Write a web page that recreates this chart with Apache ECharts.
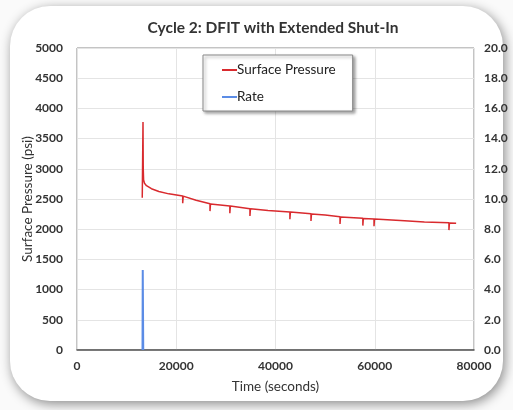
<!DOCTYPE html>
<html><head><meta charset="utf-8">
<script src="https://cdn.jsdelivr.net/npm/echarts@6/dist/echarts.min.js"></script>
<style>html,body{margin:0;padding:0;background:#fff}#c{width:513px;height:410px}</style>
</head><body><div id="c"></div>
<script>
// Surface pressure (time s, psi)
const pressureTime = [13150, 13250, 13300, 13350, 13420, 13600, 14000, 15000, 16500, 18500, 21300,
  21300, 21400, 24000, 26800, 26800, 26900, 30800, 30800, 30900, 34850, 34850, 34950, 38500,
  42900, 42900, 43000, 47150, 47150, 47250, 50000, 53000, 53000, 53100, 57600, 57600, 57700,
  59850, 59850, 59950, 66000, 70000, 74950, 74950, 75050, 76400];
const pressureValues = [2520, 2540, 3775, 3000, 2815, 2760, 2720, 2670, 2625, 2585, 2550,
  2430, 2548, 2480, 2420, 2300, 2418, 2385, 2265, 2383, 2340, 2220, 2338, 2310,
  2285, 2165, 2283, 2255, 2135, 2253, 2235, 2205, 2085, 2203, 2180, 2060, 2178,
  2170, 2050, 2168, 2140, 2120, 2105, 1985, 2103, 2100];
// Rate (time s, bpm)
const rateTime = [13200, 13250, 13300, 13350];
const rateValues = [0, 5.3, 5.3, 0];
const leftTicks = {min: 0, max: 5000, interval: 500};
const rightTicks = {min: 0, max: 20, interval: 2};
const xTicks = {min: 0, max: 80000, interval: 20000};

const font = 'Lato, "Open Sans", sans-serif';
const chart = echarts.init(document.getElementById('c'), null, {renderer: 'canvas'});
chart.setOption({
  animation: false,
  backgroundColor: '#fafafa',
  graphic: [{
    type: 'rect', z: -10, silent: true,
    shape: {x: 10, y: 6, width: 493, height: 395, r: 40},
    style: {fill: '#fff', shadowBlur: 12, shadowColor: 'rgba(0,0,0,0.45)', shadowOffsetX: 2, shadowOffsetY: 3}
  }],
  title: {
    text: 'Cycle 2: DFIT with Extended Shut-In', left: 268, top: 15, textAlign: 'center',
    textStyle: {fontFamily: font, fontSize: 15.5, fontWeight: 'bold', color: '#333'}
  },
  grid: {left: 77, right: 39, top: 48, bottom: 60, show: true, borderColor: '#888', borderWidth: 1},
  legend: {
    orient: 'vertical', left: 203, top: 55, width: 150, itemGap: 13,
    padding: [8, 17, 7, 19],
    borderColor: '#888', borderWidth: 1, backgroundColor: '#fff',
    shadowBlur: 3, shadowColor: 'rgba(0,0,0,0.35)', shadowOffsetX: 2, shadowOffsetY: 2,
    itemWidth: 15, itemHeight: 2, icon: 'rect',
    textStyle: {fontFamily: font, fontSize: 13.5, color: '#222', padding: [0, 0, 0, -5]},
    data: ['Surface Pressure', 'Rate']
  },
  xAxis: {
    type: 'value', min: xTicks.min, max: xTicks.max, interval: xTicks.interval,
    name: 'Time (seconds)', nameLocation: 'middle', nameGap: 30,
    nameTextStyle: {fontFamily: font, fontSize: 13.5, color: '#333'},
    axisLine: {lineStyle: {color: '#555', width: 1.5}}, axisTick: {show: false},
    axisLabel: {fontFamily: font, fontSize: 12, fontWeight: 'bold', color: '#333', margin: 10,
      formatter: v => String(v)},
    splitLine: {lineStyle: {color: '#e4e4e4'}}
  },
  yAxis: [{
    type: 'value', min: leftTicks.min, max: leftTicks.max, interval: leftTicks.interval,
    name: 'Surface Pressure (psi)', nameLocation: 'middle', nameGap: 42, nameMoveOverlap: false,
    nameTextStyle: {fontFamily: font, fontSize: 13.5, color: '#333'},
    axisLine: {show: false}, axisTick: {show: false},
    axisLabel: {fontFamily: font, fontSize: 12, fontWeight: 'bold', color: '#333', margin: 14,
      formatter: v => String(v)},
    splitLine: {lineStyle: {color: '#e4e4e4'}}
  }, {
    type: 'value', min: rightTicks.min, max: rightTicks.max, interval: rightTicks.interval,
    position: 'right',
    axisLine: {show: false}, axisTick: {show: false},
    axisLabel: {fontFamily: font, fontSize: 12, fontWeight: 'bold', color: '#333', margin: 10,
      formatter: v => v.toFixed(1)},
    splitLine: {show: false}
  }],
  series: [{
    name: 'Surface Pressure', type: 'line', yAxisIndex: 0, showSymbol: false,
    data: pressureTime.map((t, i) => [t, pressureValues[i]]),
    lineStyle: {color: '#d92a2e', width: 1.5}, itemStyle: {color: '#d92a2e'}
  }, {
    name: 'Rate', type: 'line', yAxisIndex: 1, showSymbol: false,
    data: rateTime.map((t, i) => [t, rateValues[i]]),
    lineStyle: {color: '#5b8ce6', width: 2}, itemStyle: {color: '#5b8ce6'}
  }]
});
</script></body></html>
